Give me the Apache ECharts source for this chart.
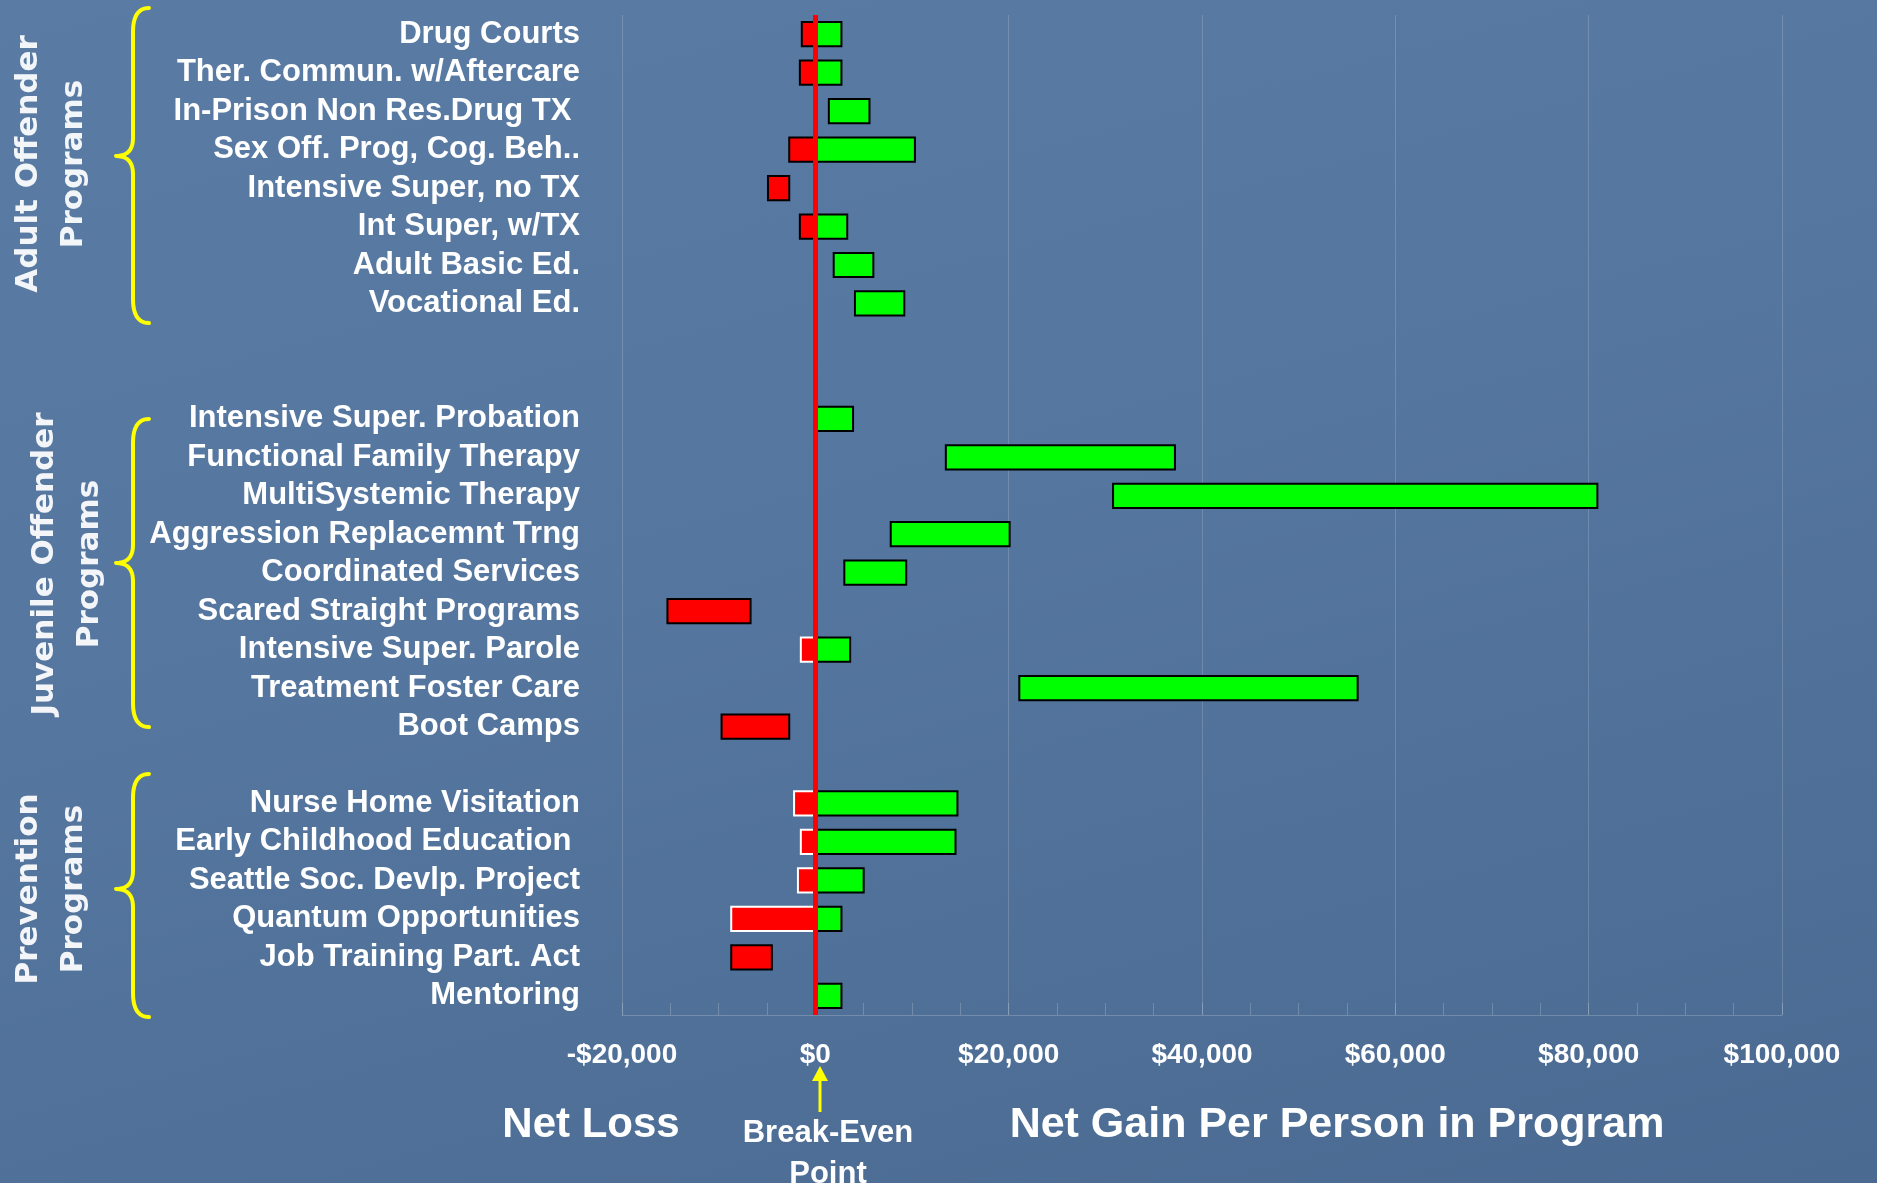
<!DOCTYPE html>
<html>
<head>
<meta charset="utf-8">
<title>Net Gain Per Person in Program</title>
<script src="https://cdn.jsdelivr.net/npm/echarts@6/dist/echarts.min.js"></script>
<style>
  html, body { margin: 0; padding: 0; }
  body {
    width: 1877px; height: 1183px; overflow: hidden;
    background: linear-gradient(165deg, #5a7ca4 0%, #55769e 45%, #4a6a92 100%);
  }
  #chart { width: 1877px; height: 1183px; }
</style>
</head>
<body>
<div id="chart"></div>
<script>
// Net gain per participant: each program spans a range from its low to its high estimate (US$).
const adultPrograms = ['Drug Courts', 'Ther. Commun. w/Aftercare', 'In-Prison Non Res.Drug TX ', 'Sex Off. Prog, Cog. Beh..',
  'Intensive Super, no TX', 'Int Super, w/TX', 'Adult Basic Ed.', 'Vocational Ed.'];
const adultLow  = [-1400, -1600, 1400, -2700, -4900, -1600, 1900, 4100];
const adultHigh = [ 2700,  2700, 5600, 10300, -2700,  3300, 6000, 9200];

const juvenilePrograms = ['Intensive Super. Probation', 'Functional Family Therapy', 'MultiSystemic Therapy',
  'Aggression Replacemnt Trng', 'Coordinated Services', 'Scared Straight Programs', 'Intensive Super. Parole',
  'Treatment Foster Care', 'Boot Camps'];
const juvenileLow  = [   0, 13500, 30800,  7800, 3000, -15300, -1500, 21100, -9700];
const juvenileHigh = [3900, 37200, 80900, 20100, 9400,  -6700,  3600, 56100, -2700];

const preventionPrograms = ['Nurse Home Visitation', 'Early Childhood Education ', 'Seattle Soc. Devlp. Project',
  'Quantum Opportunities', 'Job Training Part. Act', 'Mentoring'];
const preventionLow  = [-2200, -1500, -1800, -8700, -8700,    0];
const preventionHigh = [14700, 14500,  5000,  2700, -4500, 2700];

const xTickValues = [-20000, 0, 20000, 40000, 60000, 80000, 100000];

// Programs whose loss portion is outlined in white rather than black
const whiteOutlinedLoss = ['Intensive Super. Parole', 'Nurse Home Visitation', 'Early Childhood Education ',
  'Seattle Soc. Devlp. Project', 'Quantum Opportunities'];

// Category rows, with empty rows separating the three program groups
const groups = [
  { names: adultPrograms, low: adultLow, high: adultHigh, gapAfter: 2 },
  { names: juvenilePrograms, low: juvenileLow, high: juvenileHigh, gapAfter: 1 },
  { names: preventionPrograms, low: preventionLow, high: preventionHigh, gapAfter: 0 }
];
const categories = [];
const rangeData = [];
groups.forEach(g => {
  g.names.forEach((name, i) => {
    rangeData.push([categories.length, g.low[i], g.high[i]]);
    categories.push(name);
  });
  for (let k = 0; k < g.gapAfter; k++) categories.push('');
});

const LABEL_FONT = '"Liberation Sans", Arial, sans-serif';
const TITLE_FONT = '"DejaVu Sans", Verdana, sans-serif';
const faint = 'rgba(255,255,255,0.2)';

function renderRange(params, api) {
  const row = api.value(0);
  const lo = api.value(1);
  const hi = api.value(2);
  const h = api.size([0, 1])[1] * 0.63;
  const children = [];
  if (lo < 0) {
    const a = api.coord([lo, row]);
    const b = api.coord([Math.min(hi, 0), row]);
    const white = whiteOutlinedLoss.indexOf(categories[row]) >= 0;
    children.push({
      type: 'rect',
      shape: { x: a[0], y: a[1] - h / 2, width: b[0] - a[0], height: h },
      style: { fill: '#ff0000', stroke: white ? '#ffffff' : '#000000', lineWidth: 2 }
    });
  }
  if (hi > 0) {
    const a = api.coord([Math.max(lo, 0), row]);
    const b = api.coord([hi, row]);
    children.push({
      type: 'rect',
      shape: { x: a[0], y: a[1] - h / 2, width: b[0] - a[0], height: h },
      style: { fill: '#00ff00', stroke: '#000000', lineWidth: 2 }
    });
  }
  return { type: 'group', children: children };
}

// Curly brace as a polyline sampled from quadratic curves
function quad(p0, c, p1, n) {
  const pts = [];
  for (let i = 0; i <= n; i++) {
    const t = i / n, u = 1 - t;
    pts.push([u * u * p0[0] + 2 * u * t * c[0] + t * t * p1[0], u * u * p0[1] + 2 * u * t * c[1] + t * t * p1[1]]);
  }
  return pts;
}
function brace(yTop, yTip, yBot) {
  const xEnd = 149, xMid = 133, xTip = 116, r = 24, r2 = 18;
  return [].concat(
    quad([xEnd, yTop], [xMid, yTop], [xMid, yTop + r], 12),
    quad([xMid, yTip - r2], [xMid, yTip], [xTip, yTip], 10),
    quad([xTip, yTip], [xMid, yTip], [xMid, yTip + r2], 10),
    quad([xMid, yBot - r], [xMid, yBot], [xEnd, yBot], 12)
  );
}
function braceEl(yTop, yTip, yBot) {
  return {
    type: 'polyline',
    shape: { points: brace(yTop, yTip, yBot) },
    style: { fill: null, stroke: '#ffff00', lineWidth: 4, lineJoin: 'round', lineCap: 'round' },
    silent: true
  };
}
function groupTitle(x, y, text) {
  return {
    type: 'text', x: x, y: y, rotation: Math.PI / 2, silent: true,
    style: {
      text: text, fill: 'rgba(255,255,255,0.93)', font: 'bold 31px ' + TITLE_FONT,
      align: 'center', verticalAlign: 'middle', lineHeight: 45
    }
  };
}
function caption(x, y, text, size, lineHeight) {
  return {
    type: 'text', x: x, y: y, silent: true,
    style: {
      text: text, fill: '#ffffff', font: 'bold ' + size + 'px ' + LABEL_FONT,
      align: 'center', verticalAlign: 'middle', lineHeight: lineHeight || size
    }
  };
}

const chart = echarts.init(document.getElementById('chart'), null, { renderer: 'canvas' });
chart.setOption({
  animation: false,
  backgroundColor: 'transparent',
  grid: { left: 622, right: 95, top: 15, bottom: 168, outerBoundsMode: 'none' },
  xAxis: {
    type: 'value',
    min: xTickValues[0],
    max: xTickValues[xTickValues.length - 1],
    interval: xTickValues[1] - xTickValues[0],
    axisLine: { show: true, lineStyle: { color: faint, width: 1 } },
    axisTick: { show: true, inside: true, length: 12, lineStyle: { color: faint } },
    minorTick: { show: true, splitNumber: 4, length: 12, lineStyle: { color: faint } },
    splitLine: { show: true, lineStyle: { color: 'rgba(255,255,255,0.16)', width: 1 } },
    axisLabel: {
      color: '#ffffff', fontSize: 28, fontWeight: 'bold', fontFamily: LABEL_FONT, margin: 26,
      formatter: v => (v < 0 ? '-' : '') + '$' + Math.abs(v).toLocaleString('en-US')
    }
  },
  yAxis: {
    type: 'category',
    inverse: true,
    data: categories,
    axisLine: { show: false },
    axisTick: { show: false },
    splitLine: { show: false },
    axisLabel: {
      interval: 0, color: '#ffffff', fontSize: 31, fontWeight: 'bold', fontFamily: LABEL_FONT, margin: 42
    }
  },
  series: [
    {
      type: 'custom',
      name: 'Net gain range',
      renderItem: renderRange,
      encode: { x: [1, 2], y: 0 },
      data: rangeData,
      z: 2
    },
    {
      type: 'scatter',
      name: 'Break-even',
      data: [],
      z: 5,
      markLine: {
        silent: true,
        symbol: ['none', 'none'],
        label: { show: false },
        lineStyle: { color: '#ff0000', width: 5, type: 'solid' },
        emphasis: { disabled: true },
        data: [{ xAxis: 0 }]
      }
    }
  ],
  graphic: [
    braceEl(8, 156, 323),
    braceEl(419, 563, 727),
    braceEl(774, 889, 1017),
    groupTitle(51, 164, 'Adult Offender\nPrograms'),
    groupTitle(67, 564, 'Juvenile Offender\nPrograms'),
    groupTitle(51, 889, 'Prevention\nPrograms'),
    caption(591, 1125, 'Net Loss', 42),
    caption(1337, 1125, 'Net Gain Per Person in Program', 43),
    caption(828, 1154, 'Break-Even\nPoint', 31, 41.5),
    {
      type: 'line', silent: true,
      shape: { x1: 820, y1: 1079, x2: 820, y2: 1112 },
      style: { stroke: '#ffff00', lineWidth: 3 }
    },
    {
      type: 'polygon', silent: true,
      shape: { points: [[820, 1066], [812, 1081], [828, 1081]] },
      style: { fill: '#ffff00' }
    }
  ]
});
</script>
</body>
</html>
